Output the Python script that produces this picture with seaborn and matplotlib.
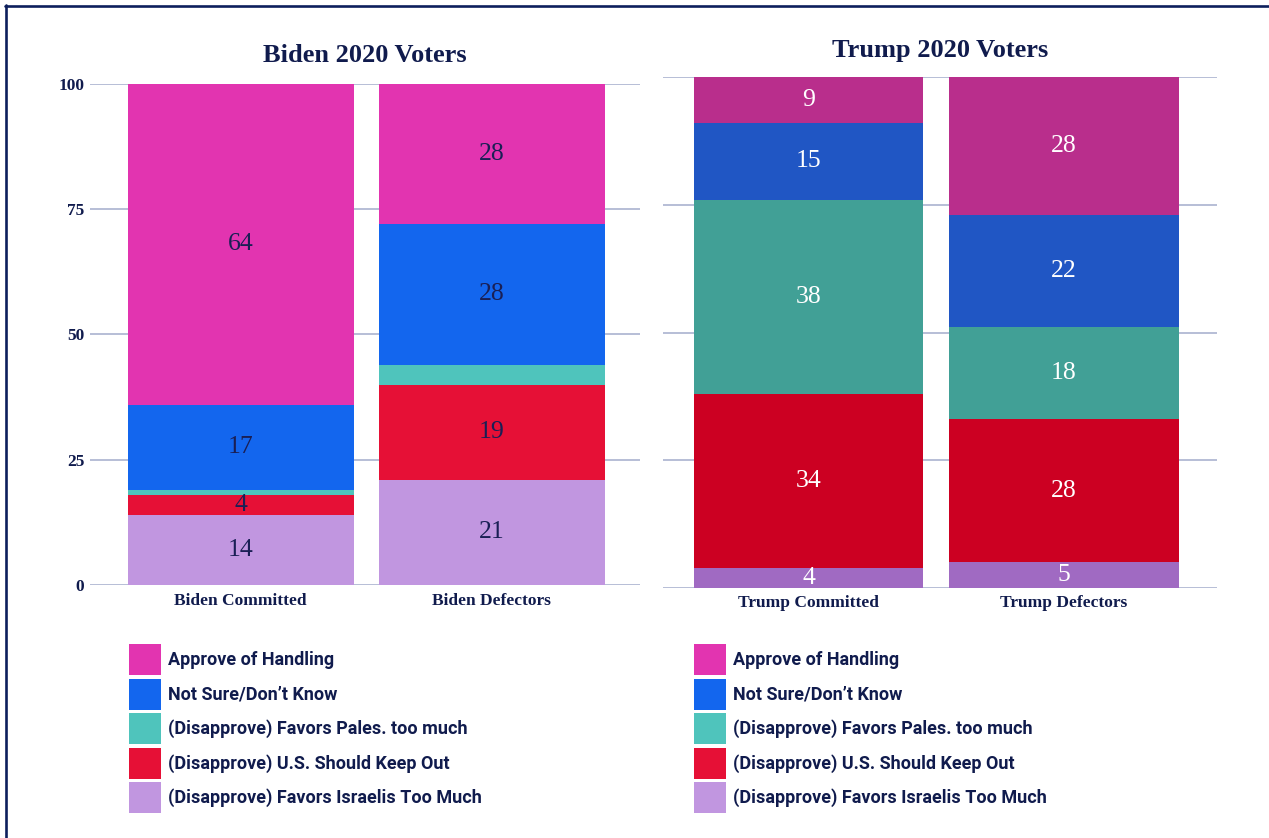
import matplotlib
matplotlib.use("Agg")
import matplotlib.pyplot as plt
from matplotlib.patches import Patch
from matplotlib.lines import Line2D
import pandas as pd
import seaborn as sns

# ---- data -----------------------------------------------------------------
categories = [
    "Approve of Handling",
    "Not Sure/Don\u2019t Know",
    "(Disapprove) Favors Pales. too much",
    "(Disapprove) U.S. Should Keep Out",
    "(Disapprove) Favors Israelis Too Much",
]

biden_groups = ["Biden Committed", "Biden Defectors"]
biden_approve = [64, 28]
biden_not_sure = [17, 28]
biden_pales = [1, 4]
biden_keep_out = [4, 19]
biden_israelis = [14, 21]

trump_groups = ["Trump Committed", "Trump Defectors"]
trump_approve = [9, 28]
trump_not_sure = [15, 22]
trump_pales = [38, 18]
trump_keep_out = [34, 28]
trump_israelis = [4, 5]

y_ticks = [0, 25, 50, 75, 100]

# ---- styling ----------------------------------------------------------------
sns.set_theme(style="white")
NAVY = "#101B4D"
GRID = "#A3ACCB"
biden_colors = ["#E234B0", "#1366EE", "#4FC4BC", "#E61036", "#C196E0"]
trump_colors = ["#B92E8C", "#2056C4", "#41A096", "#CC0022", "#A06AC2"]
SERIF = ["Liberation Serif", "DejaVu Serif"]

W, H = 1269, 838
fig = plt.figure(figsize=(W / 100, H / 100), dpi=100)
fig.patch.set_facecolor("white")


def px_axes(x0, x1, y_top, y_bot):
    return fig.add_axes([x0 / W, 1 - y_bot / H, (x1 - x0) / W, (y_bot - y_top) / H])


def stacked_panel(ax, groups, series, colors, label_color, labeled, title, xlim,
                  title_pad, xtick_pad):
    # series are given top-to-bottom; stack them bottom-up
    bottoms_up = list(reversed(series))
    cum = []
    running = [0] * len(groups)
    for vals in bottoms_up:
        running = [r + v for r, v in zip(running, vals)]
        cum.append(list(running))
    cum = list(reversed(cum))  # top layer (largest total) first

    for layer, color in zip(cum, colors):
        df = pd.DataFrame({"group": groups, "total": layer})
        sns.barplot(data=df, x="group", y="total", color=color, saturation=1,
                    width=0.9, linewidth=0, errorbar=None, ax=ax, zorder=2)

    # value labels at the centre of the visible part of each segment
    for k, (vals, top) in enumerate(zip(series, cum)):
        if not labeled[k]:
            continue
        for i, (v, t) in enumerate(zip(vals, top)):
            base = t - v
            centre = (base + min(t, 100)) / 2
            ax.text(i, centre, f"{v}", ha="center", va="center", fontsize=18.5,
                    family=SERIF, color=label_color, zorder=3)

    ax.set_ylim(0, 100)
    ax.set_xlim(*xlim)
    ax.set_yticks(y_ticks)
    ax.yaxis.grid(True, color=GRID, linewidth=1.1)
    ax.set_axisbelow(True)
    for s in ax.spines.values():
        s.set_visible(False)
    ax.set_xlabel("")
    ax.set_ylabel("")
    ax.tick_params(axis="both", length=0)
    for lab in ax.get_xticklabels():
        lab.set_fontfamily(SERIF)
        lab.set_fontweight("bold")
        lab.set_fontsize(12.5)
        lab.set_color(NAVY)
    ax.tick_params(axis="x", pad=xtick_pad)
    ax.set_title(title, fontsize=19, fontweight="bold", family=SERIF,
                 color=NAVY, pad=title_pad)


# ---- left panel: Biden voters ----------------------------------------------
ax1 = px_axes(90, 640, 84, 585)
stacked_panel(
    ax1, biden_groups,
    [biden_approve, biden_not_sure, biden_pales, biden_keep_out, biden_israelis],
    biden_colors, "#1A1F55", [True, True, False, True, True],
    "Biden 2020 Voters", (-0.6, 1.59), title_pad=15.6, xtick_pad=6,
)
ax1.set_yticklabels([str(t) for t in y_ticks])
for lab in ax1.get_yticklabels():
    lab.set_fontfamily(SERIF)
    lab.set_fontweight("bold")
    lab.set_fontsize(12.5)
    lab.set_color(NAVY)
ax1.tick_params(axis="y", pad=4)

# ---- right panel: Trump voters ----------------------------------------------
ax2 = px_axes(663, 1217, 77, 588)
stacked_panel(
    ax2, trump_groups,
    [trump_approve, trump_not_sure, trump_pales, trump_keep_out, trump_israelis],
    trump_colors, "white", [True] * 5,
    "Trump 2020 Voters", (-0.57, 1.6), title_pad=14.2, xtick_pad=5,
)
ax2.set_yticklabels([])

# ---- legends ----------------------------------------------------------------
LEG_FONT = {"family": ["Roboto", "DejaVu Sans"], "weight": "bold", "size": 13}
handles = [Patch(facecolor=c, edgecolor="none") for c in biden_colors]
for x_left in (129, 694):
    leg = fig.legend(handles, categories, loc="upper left",
                     bbox_to_anchor=(x_left / W, 1 - 644 / H),
                     frameon=False, prop=LEG_FONT,
                     handlelength=1.77, handleheight=2.26,
                     handletextpad=0.39, labelspacing=0.2,
                     borderpad=0, borderaxespad=0)
    for t in leg.get_texts():
        t.set_color(NAVY)

# ---- outer frame (top and left edges) ----------------------------------------
frame_kw = dict(color="#0D1F5C", linewidth=1.9, transform=fig.transFigure)
fig.add_artist(Line2D([5 / W, 1], [1 - 6 / H, 1 - 6 / H], **frame_kw))
fig.add_artist(Line2D([6 / W, 6 / W], [0, 1 - 5 / H], **frame_kw))

fig.savefig("out.png", dpi=100, facecolor="white")
